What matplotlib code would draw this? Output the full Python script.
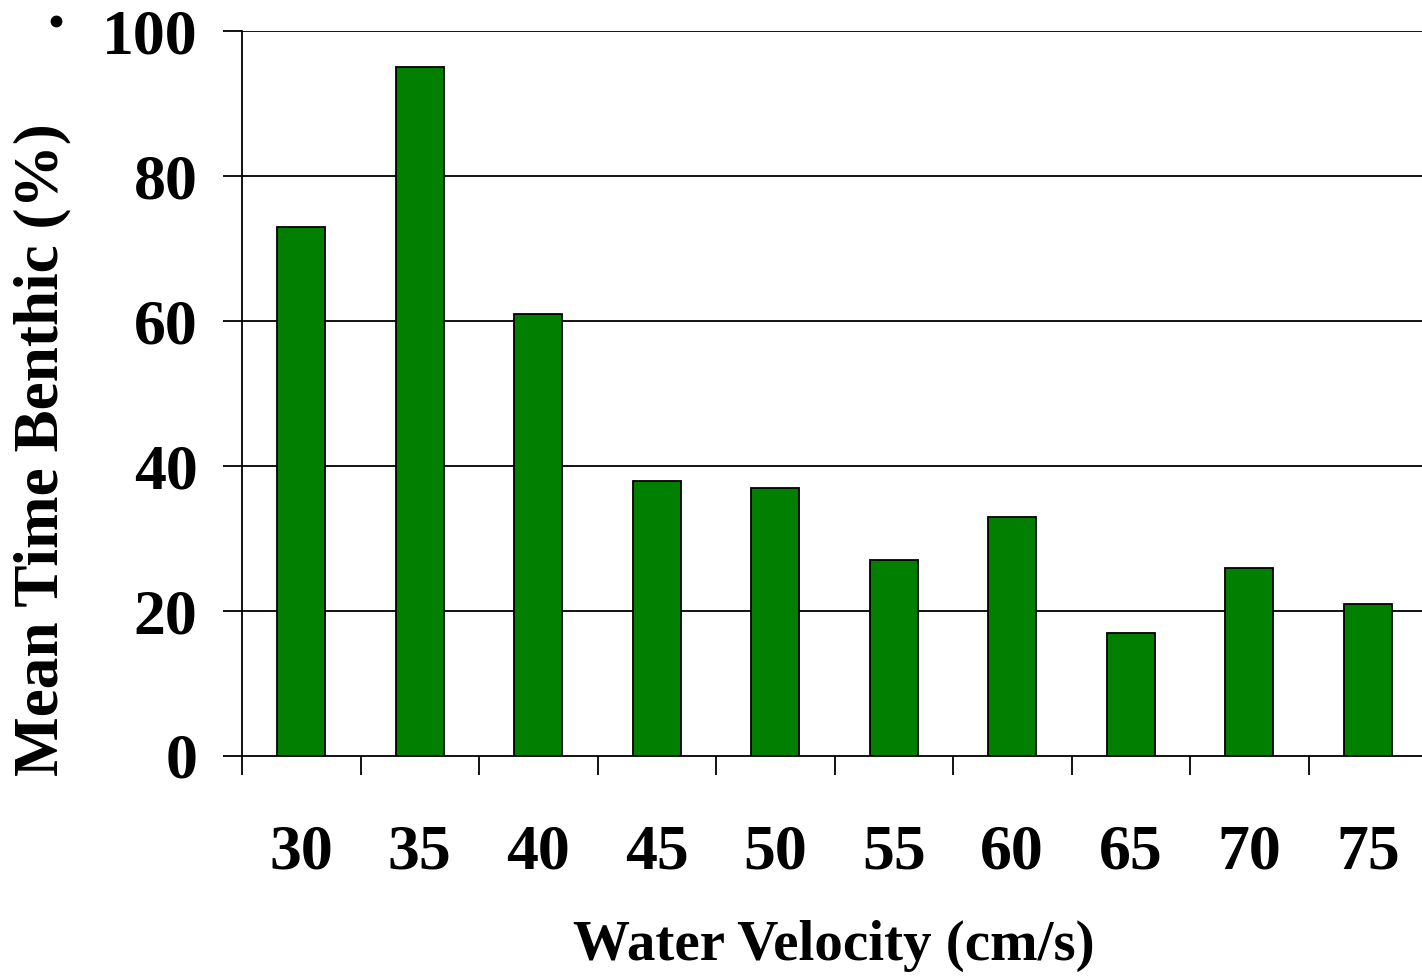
import matplotlib
matplotlib.use("Agg")
import matplotlib.pyplot as plt
from matplotlib.lines import Line2D
import numpy as np

categories = ["30", "35", "40", "45", "50", "55", "60", "65", "70", "75"]
values = [73, 95, 61, 38, 37, 27, 33, 17, 26, 21]
yticks = [0, 20, 40, 60, 80, 100]

plt.rcParams['font.family'] = ['Liberation Serif', 'DejaVu Serif']
plt.rcParams['font.weight'] = 'bold'

fig = plt.figure(figsize=(14.22, 9.77), dpi=100)
ax = fig.add_axes([242/1422, 1-756/977, (1427-242)/1422, (756-31)/977])

x = np.arange(len(categories))
ax.set_axisbelow(True)
for yv in yticks[1:]:
    ax.axhline(yv, color='black', lw=1.3, zorder=0)
ax.bar(x, values, width=0.405, color='#007F00', edgecolor='black', linewidth=1.3, zorder=2)

ax.set_xlim(-0.5, len(categories) - 0.5)
ax.set_ylim(0, 100)
ax.set_yticks(yticks)
ax.set_yticklabels([str(v) for v in yticks], fontsize=46, fontweight='bold')
ax.tick_params(axis='y', direction='out', length=14, width=1.3, pad=18)

ax.set_xticks(x)
ax.set_xticklabels(categories, fontsize=46, fontweight='bold')
ax.tick_params(axis='x', which='major', length=0, pad=49)
ax.set_xticks(np.arange(len(categories)) - 0.5, minor=True)
ax.tick_params(axis='x', which='minor', direction='out', length=14, width=1.3)

for s in ['top', 'right']:
    ax.spines[s].set_visible(False)
ax.spines['left'].set_linewidth(1.3)
ax.spines['bottom'].set_linewidth(1.3)

fig.text(834/1422, 1-946/977, "Water Velocity (cm/s)", fontsize=41, fontweight='bold',
         ha='center', va='center')
fig.text(42/1422, 1-450/977, "Mean Time Benthic (%)", fontsize=45.5, fontweight='bold',
         ha='center', va='center', rotation=90)

# small stray dot at top-left of the original
fig.add_artist(Line2D([56/1422], [1-21/977], marker='o', markersize=7.5,
                      color='black', linestyle='none', transform=fig.transFigure))

fig.savefig("out.png", dpi=100)
